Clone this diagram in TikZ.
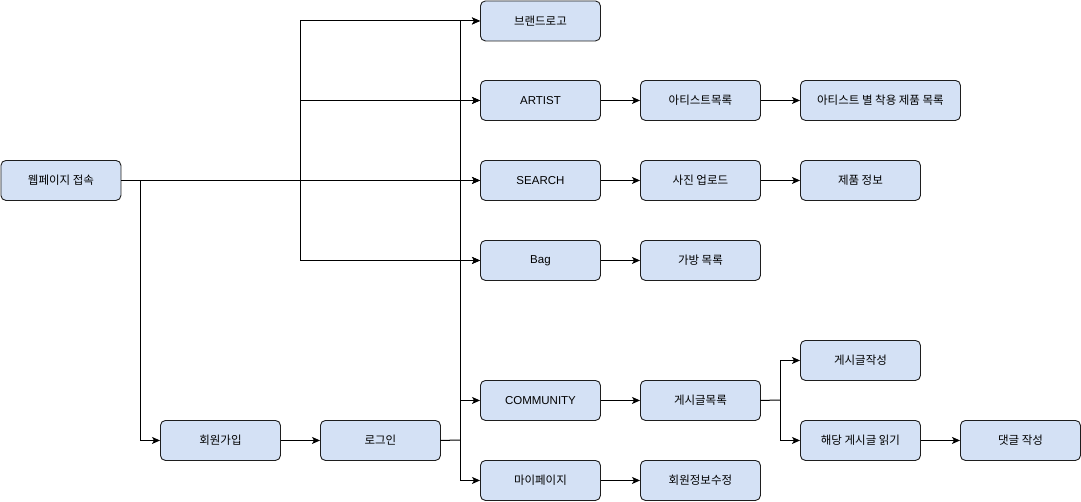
\documentclass[tikz,border=0pt]{standalone}
\usepackage{fontspec}
\setmainfont{Liberation Sans}
\newfontfamily\kr{Noto Sans CJK KR}
\usetikzlibrary{arrows.meta}
\definecolor{boxfill}{RGB}{212,225,245}
\definecolor{boxline}{RGB}{30,30,30}
\tikzset{
  box/.style={draw=boxline, fill=boxfill, rounded corners=5pt, line width=0.9pt,
    minimum width=120pt, minimum height=40pt, inner sep=0pt, anchor=north west,
    font=\fontsize{11.5}{13}\selectfont},
  wide/.style={minimum width=160pt},
  conn/.style={line width=1pt, -{Stealth[length=8pt,width=7pt,inset=2pt]}},
  plain/.style={line width=1pt, line cap=rect}
}
\begin{document}
\begin{tikzpicture}[x=1pt,y=-1pt]
\useasboundingbox (0,0) rectangle (1081,501);
\node[box] (web) at (0.5,160) {\kr 웹페이지 접속};
\node[box] (brand) at (480,0.5) {\kr 브랜드로고};
\node[box] (artist) at (480,80) {ARTIST};
\node[box] (search) at (480,160) {SEARCH};
\node[box] (bag) at (480,240) {Bag};
\node[box] (comm) at (480,380) {COMMUNITY};
\node[box] (mypage) at (480,460) {\kr 마이페이지};
\node[box] (join) at (160,420) {\kr 회원가입};
\node[box] (login) at (320,420) {\kr 로그인};
\node[box] (alist) at (640,80) {\kr 아티스트목록};
\node[box,wide] (awear) at (800,80) {\kr 아티스트 별 착용 제품 목록};
\node[box] (photo) at (640,160) {\kr 사진 업로드};
\node[box] (prod) at (800,160) {\kr 제품 정보};
\node[box] (baglist) at (640,240) {\kr 가방 목록};
\node[box] (plist) at (640,380) {\kr 게시글목록};
\node[box] (pwrite) at (800,340) {\kr 게시글작성};
\node[box] (pread) at (800,420) {\kr 해당 게시글 읽기};
\node[box] (cwrite) at (960,420) {\kr 댓글 작성};
\node[box] (minfo) at (640,460) {\kr 회원정보수정};

% junctions
\coordinate (jw) at (300,180);
\coordinate (jj) at (140,180);
\coordinate (jl) at (460,440);
\coordinate (jp) at (780,400);

% from web
\draw[conn] (web.east) -- (search.west);
\draw[plain] (300,20) -- (300,260);
\draw[conn] (jw) |- (brand.west);
\draw[conn] (jw) |- (artist.west);
\draw[conn] (jw) |- (bag.west);
\draw[conn] (jj) |- (join.west);
% from login
\draw[plain] (login.east) -- (jl);
\draw[plain] (460,20) -- (460,480);
\draw[conn] (jl) |- (brand.west);
\draw[conn] (jl) |- (artist.west);
\draw[conn] (jl) |- (search.west);
\draw[conn] (jl) |- (bag.west);
\draw[conn] (jl) |- (comm.west);
\draw[conn] (jl) |- (mypage.west);
\draw[conn] (join) -- (login);
\draw[conn] (artist) -- (alist);
\draw[conn] (alist) -- (awear);
\draw[conn] (search) -- (photo);
\draw[conn] (photo) -- (prod);
\draw[conn] (bag) -- (baglist);
\draw[conn] (comm) -- (plist);
\draw[plain] (plist.east) -- (jp);
\draw[conn] (jp) |- (pwrite.west);
\draw[conn] (jp) |- (pread.west);
\draw[conn] (pread) -- (cwrite);
\draw[conn] (mypage) -- (minfo);
\end{tikzpicture}
\end{document}
